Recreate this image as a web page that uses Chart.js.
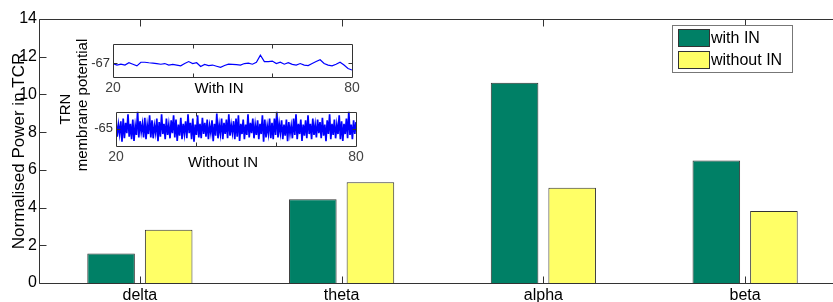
<!DOCTYPE html>
<html>
<head>
<meta charset="utf-8">
<script src="https://cdn.jsdelivr.net/npm/chart.js@4.4.1/dist/chart.umd.min.js"></script>
<style>
  html, body { margin: 0; padding: 0; background: #fff; overflow: hidden; }
  #wrap { position: relative; width: 833px; height: 302px; overflow: hidden; }
  canvas { position: absolute; }
</style>
</head>
<body>
<div id="wrap">
  <canvas id="main" width="846" height="302" style="left:0;top:0"></canvas>
  <canvas id="insetWith" width="290" height="66" style="left:80px;top:33px"></canvas>
  <canvas id="insetWithout" width="290" height="75" style="left:80px;top:101px"></canvas>
</div>
<script>
// bar chart data
const bands = ["delta", "theta", "alpha", "beta"];
const withIN = [1.57, 4.44, 10.62, 6.5];
const withoutIN = [2.83, 5.34, 5.05, 3.82];
const powerTicks = [0, 2, 4, 6, 8, 10, 12, 14];

// inset traces (TRN membrane potential, mV), time axis in ms
const traceStartMs = 20;
const withInStepMs = 1;
const withInTraceMv = [
  -67.03, -67.12, -67.07, -67.12, -66.98, -67.07, -67.17, -66.95, -66.95, -66.98,
  -67.00, -67.03, -67.07, -67.03, -67.12, -67.08, -67.12, -67.17, -67.03, -66.91,
  -67.03, -66.98, -67.21, -67.08, -67.15, -67.12, -67.19, -67.26, -67.15, -67.07,
  -67.08, -67.10, -67.12, -67.03, -67.00, -67.07, -66.95, -66.52, -66.91, -66.91,
  -66.88, -67.03, -66.95, -67.07, -66.98, -67.08, -67.12, -67.03, -67.12, -67.15,
  -67.03, -66.91, -66.80, -67.03, -67.12, -67.17, -67.07, -66.95, -67.12, -67.33,
  -67.42
];
const withoutInStepMs = 0.3;
const withoutInTraceMv = [
  -64.5, -65.45, -64.75, -65.3, -64.55, -65.75, -64.4, -65.55, -64.65, -65.25,
  -64.15, -65.45, -64.7, -65.6, -64.45, -65.7, -64.8, -65.35, -63.95, -65.5,
  -64.55, -65.2, -64.7, -65.5, -64.35, -65.6, -64.75, -65.3, -64.2, -65.5,
  -64.5, -65.55, -64.8, -65.25, -64.4, -65.72, -64.6, -65.45, -64.15, -65.3,
  -64.7, -65.6, -64.4, -65.35, -64.75, -65.55, -64.5, -65.25, -64.2, -65.5,
  -64.45, -65.7, -64.75, -65.4, -64.35, -65.6, -64.7, -65.3, -64.55, -65.55,
  -64.15, -65.25, -64.65, -65.6, -64.4, -65.75, -64.75, -65.35, -64.2, -65.5,
  -64.7, -65.55, -64.35, -65.3, -64.65, -65.45, -64.45, -65.6, -64.8, -65.25,
  -64.5, -65.72, -64.7, -65.4, -64.1, -65.55, -64.75, -65.3, -64.4, -65.6,
  -64.65, -65.3, -64.45, -65.55, -64.15, -65.4, -64.75, -65.25, -64.55, -65.6,
  -64.4, -65.45, -64.2, -65.7, -64.7, -65.3, -64.45, -65.6, -64.75, -65.35,
  -64.15, -65.5, -64.65, -65.25, -64.4, -65.55, -64.75, -65.35, -64.5, -65.6,
  -64.7, -65.3, -64.2, -65.75, -64.45, -65.5, -64.8, -65.3, -64.4, -65.55,
  -64.65, -65.6, -64.4, -65.35, -63.95, -65.5, -64.7, -65.25, -64.5, -65.6,
  -64.75, -65.4, -64.45, -65.72, -64.6, -65.3, -64.8, -65.55, -64.4, -65.35,
  -64.15, -65.6, -64.7, -65.3, -64.45, -65.7, -64.75, -65.4, -64.5, -65.55,
  -64.2, -65.3, -64.7, -65.6, -64.4, -65.35, -64.75, -65.5, -64.45, -65.25,
  -64.6, -65.55, -64.35, -65.4, -64.75, -65.72, -64.5, -65.3, -64.15, -65.6,
  -64.7, -65.35, -64.45, -65.55, -64.75, -65.3, -64.2, -65.6, -64.55, -65.7,
  -64.7, -65.3, -64.4, -65.55, -63.95, -65.35, -64.75, -65.6, -64.5, -65.3,
  -64.6
];

const GREEN = "#008066";
const YELLOW = "#ffff66";
const EDGE = "#333333";

Chart.defaults.font.family = '"Liberation Sans", Arial, sans-serif';
Chart.defaults.color = "#000";

// box round the plot area and inward tick marks, like the original figure
const framePlugin = {
  id: "frame",
  afterDatasetsDraw(chart, args, opts) {
    const { ctx, chartArea: a, scales } = chart;
    const len = opts.len || 6;
    ctx.save();
    ctx.strokeStyle = opts.color || EDGE;
    ctx.lineWidth = 1;
    ctx.beginPath();
    const l = Math.round(a.left) + 0.5, t = Math.round(a.top) + 0.5;
    const r = Math.round(a.right) + 0.5, b = Math.round(a.bottom) + 0.5;
    ctx.rect(l, t, r - l, b - t);
    (opts.xTicks || []).forEach(v => {
      const px = Math.round(scales.x.getPixelForValue(v)) + 0.5;
      ctx.moveTo(px, b); ctx.lineTo(px, b - len);
      ctx.moveTo(px, t); ctx.lineTo(px, t + len);
    });
    (opts.yTicks || []).forEach(v => {
      const py = Math.round(scales.y.getPixelForValue(v)) + 0.5;
      ctx.moveTo(l, py); ctx.lineTo(l + len, py);
      ctx.moveTo(r, py); ctx.lineTo(r - len, py);
    });
    ctx.stroke();
    ctx.restore();
  },
  afterDraw(chart, args, opts) {
    const ctx = chart.ctx;
    (opts.texts || []).forEach(tx => {
      ctx.save();
      ctx.font = `${tx.size}px "Liberation Sans", Arial, sans-serif`;
      ctx.fillStyle = tx.color || "#000";
      ctx.textAlign = "center";
      ctx.textBaseline = "middle";
      ctx.translate(tx.x, tx.y);
      if (tx.rotate) ctx.rotate(-Math.PI / 2);
      ctx.fillText(tx.text, 0, 0);
      ctx.restore();
    });
  }
};

const legendPlugin = {
  id: "legendBox",
  afterDraw(chart) {
    const ctx = chart.ctx;
    ctx.save();
    ctx.fillStyle = "#fff";
    ctx.fillRect(672.5, 25.5, 120, 47);
    ctx.strokeStyle = "#777";
    ctx.lineWidth = 1;
    ctx.strokeRect(672.5, 25.5, 120, 47);
    ctx.font = '16px "Liberation Sans", Arial, sans-serif';
    ctx.textBaseline = "middle";
    ctx.textAlign = "left";
    chart.data.datasets.forEach((ds, i) => {
      const y = i === 0 ? 29.5 : 51.5;
      ctx.fillStyle = ds.backgroundColor;
      ctx.fillRect(678.5, y, 31, 17);
      ctx.strokeStyle = EDGE;
      ctx.strokeRect(678.5, y, 31, 17);
      ctx.fillStyle = "#000";
      ctx.fillText(ds.label, 711, y + 9.5);
    });
    ctx.restore();
  }
};

new Chart(document.getElementById("main"), {
  type: "bar",
  data: {
    labels: bands,
    datasets: [
      { label: "with IN", data: withIN, backgroundColor: GREEN, borderColor: EDGE, borderWidth: 1 },
      { label: "without IN", data: withoutIN, backgroundColor: YELLOW, borderColor: EDGE, borderWidth: 1 }
    ]
  },
  options: {
    responsive: false,
    animation: false,
    categoryPercentage: 0.571,
    barPercentage: 0.826,
    layout: { padding: { top: 19, left: 0, right: 0, bottom: 0 } },
    plugins: {
      legend: { display: false },
      tooltip: { enabled: false },
      frame: {
        len: 7,
        xTicks: bands.map((b, i) => i),
        yTicks: powerTicks,
        texts: [
          { text: "TRN", x: 66, y: 109, size: 15, rotate: true },
          { text: "membrane potential", x: 83, y: 105, size: 15, rotate: true }
        ]
      }
    },
    scales: {
      x: {
        grid: { display: false, drawTicks: false },
        border: { display: false },
        ticks: { font: { size: 16 }, color: "#000", padding: 3, maxRotation: 0 },
        afterFit: s => { s.height = 19; }
      },
      y: {
        min: 0,
        max: 14,
        grid: { display: false, drawTicks: false },
        border: { display: false },
        ticks: { stepSize: 2, font: { size: 16 }, color: "#000", padding: 2 },
        title: { display: true, text: "Normalised Power in TCR", font: { size: 17 }, color: "#000", padding: { top: 9, bottom: 0 } },
        afterFit: s => { s.width = 39; }
      }
    }
  },
  plugins: [framePlugin, legendPlugin]
});

function traceChart(id, values, stepMs, lineW, yMin, yMax, yTick, axisW, axisH, padRight, title) {
  const pts = values.map((v, i) => ({ x: traceStartMs + i * stepMs, y: v }));
  return new Chart(document.getElementById(id), {
    type: "line",
    data: { datasets: [{ data: pts, borderColor: "#0000ff", borderWidth: lineW, pointRadius: 0, tension: 0 }] },
    options: {
      responsive: false,
      animation: false,
      layout: { padding: { top: 6, left: 0, right: padRight, bottom: 0 } },
      plugins: {
        legend: { display: false },
        tooltip: { enabled: false },
        frame: { len: 4, xTicks: [40, 60], yTicks: [yTick], texts: [title] }
      },
      scales: {
        x: {
          type: "linear",
          min: 20,
          max: 80,
          grid: { display: false, drawTicks: false },
          border: { display: false },
          ticks: { font: { size: 14 }, color: "#444", padding: 3, maxRotation: 0 },
          afterBuildTicks: s => { s.ticks = [{ value: 20 }, { value: 80 }]; },
          afterFit: s => { s.height = axisH; }
        },
        y: {
          min: yMin,
          max: yMax,
          grid: { display: false, drawTicks: false },
          border: { display: false },
          ticks: { font: { size: 13 }, color: "#333", padding: 3 },
          afterBuildTicks: s => { s.ticks = [{ value: yTick }]; },
          afterFit: s => { s.width = axisW; }
        }
      }
    },
    plugins: [framePlugin]
  });
}

traceChart("insetWith", withInTraceMv, withInStepMs, 1.2, -67.84, -65.84, -67, 33, 22, 18,
  { text: "With IN", x: 139, y: 56, size: 15 });
traceChart("insetWithout", withoutInTraceMv, withoutInStepMs, 1.7, -66, -64, -65, 36, 30, 14,
  { text: "Without IN", x: 143, y: 62, size: 15 });
</script>
</body>
</html>
